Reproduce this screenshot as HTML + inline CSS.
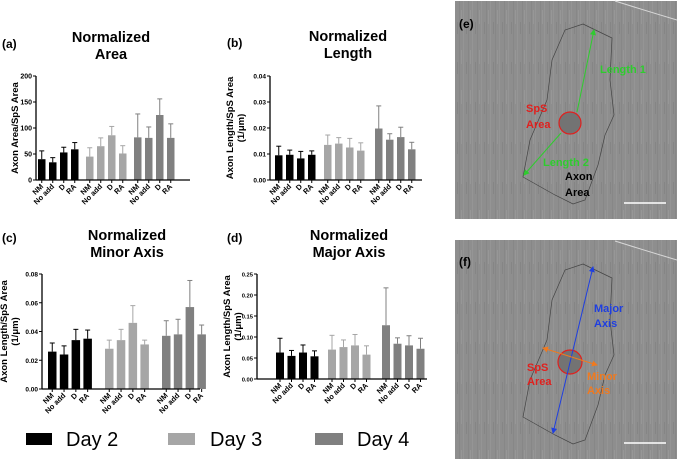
<!DOCTYPE html>
<html><head><meta charset="utf-8">
<style>
body{margin:0;background:#fff;width:677px;height:461px;overflow:hidden;font-family:"Liberation Sans",Arial,sans-serif}
svg text{font-family:"Liberation Sans",Arial,sans-serif}
</style></head>
<body>
<svg id="fig" width="677" height="461" viewBox="0 0 677 461" xmlns="http://www.w3.org/2000/svg">
<defs>
<pattern id="noise" width="9" height="40" patternUnits="userSpaceOnUse">
<rect width="9" height="40" fill="#8e8e8e"/>
<rect x="0" width="1" height="40" fill="#878787"/>
<rect x="4" width="1" height="40" fill="#959595"/>
<rect x="2" y="10" width="1" height="14" fill="#979797"/>
<rect x="7" y="22" width="1" height="12" fill="#858585"/>
</pattern>
<marker id="ag" markerWidth="6" markerHeight="6" refX="5" refY="3" orient="auto-start-reverse"><path d="M0,0 L6,3 L0,6 z" fill="#2ecc2e"/></marker>
<marker id="ab" markerWidth="6" markerHeight="6" refX="5" refY="3" orient="auto-start-reverse"><path d="M0,0 L6,3 L0,6 z" fill="#1f3fe0"/></marker>
<marker id="ao" markerWidth="6" markerHeight="6" refX="5" refY="3" orient="auto-start-reverse"><path d="M0,0 L6,3 L0,6 z" fill="#f07a20"/></marker>
</defs>
<g id="charts"></g>

<g>
<rect x="26" y="433" width="26" height="12" fill="#000"/>
<text x="66" y="446" font-size="20">Day 2</text>
<rect x="168" y="433" width="27" height="12" fill="#a6a6a6"/>
<text x="210" y="446" font-size="20">Day 3</text>
<rect x="315" y="433" width="28" height="12" fill="#808080"/>
<text x="357" y="446" font-size="20">Day 4</text>
</g>

<g>
<rect x="455" y="1" width="222" height="218" fill="url(#noise)"/>
<path d="M615,1 Q650,12 677,20" stroke="#d8d8d8" stroke-width="1" fill="none"/>
<text x="459" y="28" font-size="12" font-weight="bold">(e)</text>
<path d="M583,24 L612,38 L610,80 L614,115 L605,135 L598,165 L585,200 L573,204 L555,195 L523,177 L530,140 L547,100 L552,60 L565,30 Z" fill="none" stroke="#444" stroke-width="0.7"/>
<circle cx="570" cy="123" r="11" fill="#737373" stroke="#e0201e" stroke-width="1.2"/>
<line x1="577" y1="112" x2="594" y2="30" stroke="#2ecc2e" stroke-width="1" marker-end="url(#ag)"/>
<line x1="561" y1="133" x2="524" y2="175" stroke="#2ecc2e" stroke-width="1" marker-end="url(#ag)"/>
<text x="600" y="73" font-size="11" font-weight="bold" fill="#2ecc2e">Length 1</text>
<text x="526" y="112" font-size="11" font-weight="bold" fill="#e0201e">SpS</text>
<text x="526" y="128" font-size="11" font-weight="bold" fill="#e0201e">Area</text>
<text x="543" y="166" font-size="11" font-weight="bold" fill="#2ecc2e">Length 2</text>
<text x="565" y="180" font-size="11" font-weight="bold" fill="#000">Axon</text>
<text x="565" y="196" font-size="11" font-weight="bold" fill="#000">Area</text>
<line x1="624" y1="203" x2="666" y2="203" stroke="#fff" stroke-width="1.5"/>
</g>

<g>
<rect x="455" y="240" width="222" height="219" fill="url(#noise)"/>
<path d="M615,241 Q650,252 677,260" stroke="#d8d8d8" stroke-width="1" fill="none"/>
<text x="459" y="266" font-size="12" font-weight="bold">(f)</text>
<path d="M583,264 L612,278 L610,320 L614,355 L605,375 L598,405 L585,440 L573,444 L555,435 L523,417 L530,380 L547,340 L552,300 L565,270 Z" fill="none" stroke="#444" stroke-width="0.7"/>
<circle cx="570" cy="362" r="12" fill="#737373" stroke="#e0201e" stroke-width="1.2"/>
<line x1="553" y1="433" x2="593" y2="267" stroke="#1f3fe0" stroke-width="1" marker-start="url(#ab)" marker-end="url(#ab)"/>
<line x1="543" y1="348" x2="597" y2="365" stroke="#f07a20" stroke-width="1" marker-start="url(#ao)" marker-end="url(#ao)"/>
<text x="594" y="312" font-size="11" font-weight="bold" fill="#1f3fe0">Major</text>
<text x="594" y="327" font-size="11" font-weight="bold" fill="#1f3fe0">Axis</text>
<text x="527" y="371" font-size="11" font-weight="bold" fill="#e0201e">SpS</text>
<text x="527" y="385" font-size="11" font-weight="bold" fill="#e0201e">Area</text>
<text x="587" y="380" font-size="11" font-weight="bold" fill="#f07a20">Minor</text>
<text x="587" y="394" font-size="11" font-weight="bold" fill="#f07a20">Axis</text>
<line x1="624" y1="443" x2="666" y2="443" stroke="#fff" stroke-width="1.5"/>
</g>
</svg>
<script>
const categories = ["NM","No add","D","RA"];
const dayColors = ["#000000","#a6a6a6","#808080"];
// panel a
const areaMeans = [[40,34,53,59],[45,65,86,51],[82,81,125,81]];
const areaErr = [[56,43,63,72],[62,81,103,66],[127,102,156,108]];
const areaTicks = [0,50,100,150,200];
// panel b
const lengthMeans = [[0.0095,0.0097,0.0083,0.0097],[0.0135,0.014,0.0125,0.0113],[0.0198,0.0155,0.0165,0.0118]];
const lengthErr = [[0.013,0.0115,0.011,0.0112],[0.0173,0.0163,0.016,0.0143],[0.0285,0.0178,0.0203,0.0145]];
const lengthTicks = [0,0.01,0.02,0.03,0.04];
// panel c
const minorMeans = [[0.026,0.024,0.034,0.035],[0.028,0.034,0.046,0.031],[0.037,0.038,0.057,0.038]];
const minorErr = [[0.032,0.030,0.0415,0.041],[0.034,0.0415,0.058,0.034],[0.0475,0.0485,0.0755,0.0445]];
const minorTicks = [0,0.02,0.04,0.06,0.08];
// panel d
const majorMeans = [[0.063,0.055,0.063,0.054],[0.070,0.076,0.080,0.058],[0.128,0.084,0.080,0.072]];
const majorErr = [[0.097,0.068,0.081,0.067],[0.104,0.093,0.106,0.079],[0.217,0.098,0.103,0.097]];
const majorTicks = [0,0.05,0.10,0.15,0.20,0.25];

const NS="http://www.w3.org/2000/svg";
const root=document.getElementById('charts');
function el(tag,attrs,parent){const e=document.createElementNS(NS,tag);for(const k in attrs)e.setAttribute(k,attrs[k]);(parent||root).appendChild(e);return e;}

function chart(cfg){
  const g=el('g',{});
  
  
  const max=cfg.ticks[cfg.ticks.length-1];
  const y=v=>cfg.y0-(v/max)*(cfg.y0-cfg.yTop);
  const x=(gi,ci)=>cfg.groupX[gi]+ci*cfg.pitch;
  const pl=el('text',{x:cfg.lx,y:cfg.ly,'font-size':12,'font-weight':'bold'},g);pl.textContent=cfg.label;
  
  
  cfg.title.forEach((t,i)=>{const tt=el('text',{x:cfg.tx,y:cfg.ty+i*17,'font-size':14.5,'font-weight':'bold','text-anchor':'middle'},g);tt.textContent=t;
    
    });
  cfg.means.forEach((grp,gi)=>grp.forEach((v,ci)=>{
    const bx=x(gi,ci), col=dayColors[gi];
    const ey=y(cfg.err[gi][ci]);
    const l=el('line',{x1:bx+cfg.bw/2,x2:bx+cfg.bw/2,y1:y(v),y2:ey,stroke:col,'stroke-width':1},g);
    
    
    el('line',{x1:bx+cfg.bw/2-2.5,x2:bx+cfg.bw/2+2.5,y1:ey,y2:ey,stroke:col,'stroke-width':1},g);
    const r=el('rect',{x:bx,y:y(v),width:cfg.bw,height:cfg.y0-y(v),fill:col},g);
    
    
    const cx=bx+cfg.bw/2;
    el('line',{x1:cx,x2:cx,y1:cfg.y0,y2:cfg.y0+3,stroke:'#000','stroke-width':1},g);
    const lab=el('text',{x:cx+2,y:cfg.y0+7,'font-size':7.5,'font-weight':'bold','text-anchor':'end',transform:`rotate(-45 ${cx+2} ${cfg.y0+7})`},g);
    lab.textContent=categories[ci];
    
    
  }));
  el('line',{x1:cfg.ax,x2:cfg.ax,y1:cfg.yTop,y2:cfg.y0,stroke:'#000','stroke-width':1.3},g);
  el('line',{x1:cfg.ax,x2:cfg.xEnd,y1:cfg.y0,y2:cfg.y0,stroke:'#000','stroke-width':1.3},g);
  cfg.ticks.forEach(t=>{
    el('line',{x1:cfg.ax-3,x2:cfg.ax,y1:y(t),y2:y(t),stroke:'#000','stroke-width':1},g);
    const tl=el('text',{x:cfg.ax-4,y:y(t)+2.5,'font-size':cfg.tfs,'font-weight':'bold','text-anchor':'end'},g);
    tl.textContent=cfg.fmt(t);
    
    
  });
  const ym=(cfg.y0+cfg.yTop)/2;
  cfg.ylab.forEach((t,i)=>{
    const yl=el('text',{x:cfg.ylx+i*11,y:ym,'font-size':9.5,'font-weight':'bold','text-anchor':'middle',transform:`rotate(-90 ${cfg.ylx+i*11} ${ym})`},g);
    yl.textContent=t;
    
    
  });
}

chart({name:'chart-area',label:'(a)',lx:2,ly:48,title:['Normalized','Area'],tx:111,ty:42,
  means:areaMeans,err:areaErr,ticks:areaTicks,fmt:t=>String(t),tfs:7,
  ax:36,yTop:76,y0:180,xEnd:190,groupX:[38,86,134],pitch:11,bw:7.5,ylx:18,ylab:['Axon Area/SpS Area']});
chart({name:'chart-length',label:'(b)',lx:227,ly:47,title:['Normalized','Length'],tx:348,ty:41,
  means:lengthMeans,err:lengthErr,ticks:lengthTicks,fmt:t=>t.toFixed(2),tfs:6.5,
  ax:270,yTop:76,y0:180,xEnd:422,groupX:[275,324,375],pitch:11,bw:7.5,ylx:233,ylab:['Axon Length/SpS Area','(1/\u03bcm)']});
chart({name:'chart-minor-axis',label:'(c)',lx:2,ly:242,title:['Normalized','Minor Axis'],tx:127,ty:240,
  means:minorMeans,err:minorErr,ticks:minorTicks,fmt:t=>t.toFixed(2),tfs:6.5,
  ax:42,yTop:274,y0:389,xEnd:200,groupX:[48,105,162],pitch:11.8,bw:8.5,ylx:7,ylab:['Axon Length/SpS Area','(1/\u03bcm)']});
chart({name:'chart-major-axis',label:'(d)',lx:227,ly:242,title:['Normalized','Major Axis'],tx:349,ty:240,
  means:majorMeans,err:majorErr,ticks:majorTicks,fmt:t=>t.toFixed(2),tfs:5.8,
  ax:257,yTop:274,y0:379,xEnd:427,groupX:[276,328,382],pitch:11.5,bw:8,ylx:230,ylab:['Axon Length/SpS Area','(1/\u03bcm)']});
</script>
</body></html>
